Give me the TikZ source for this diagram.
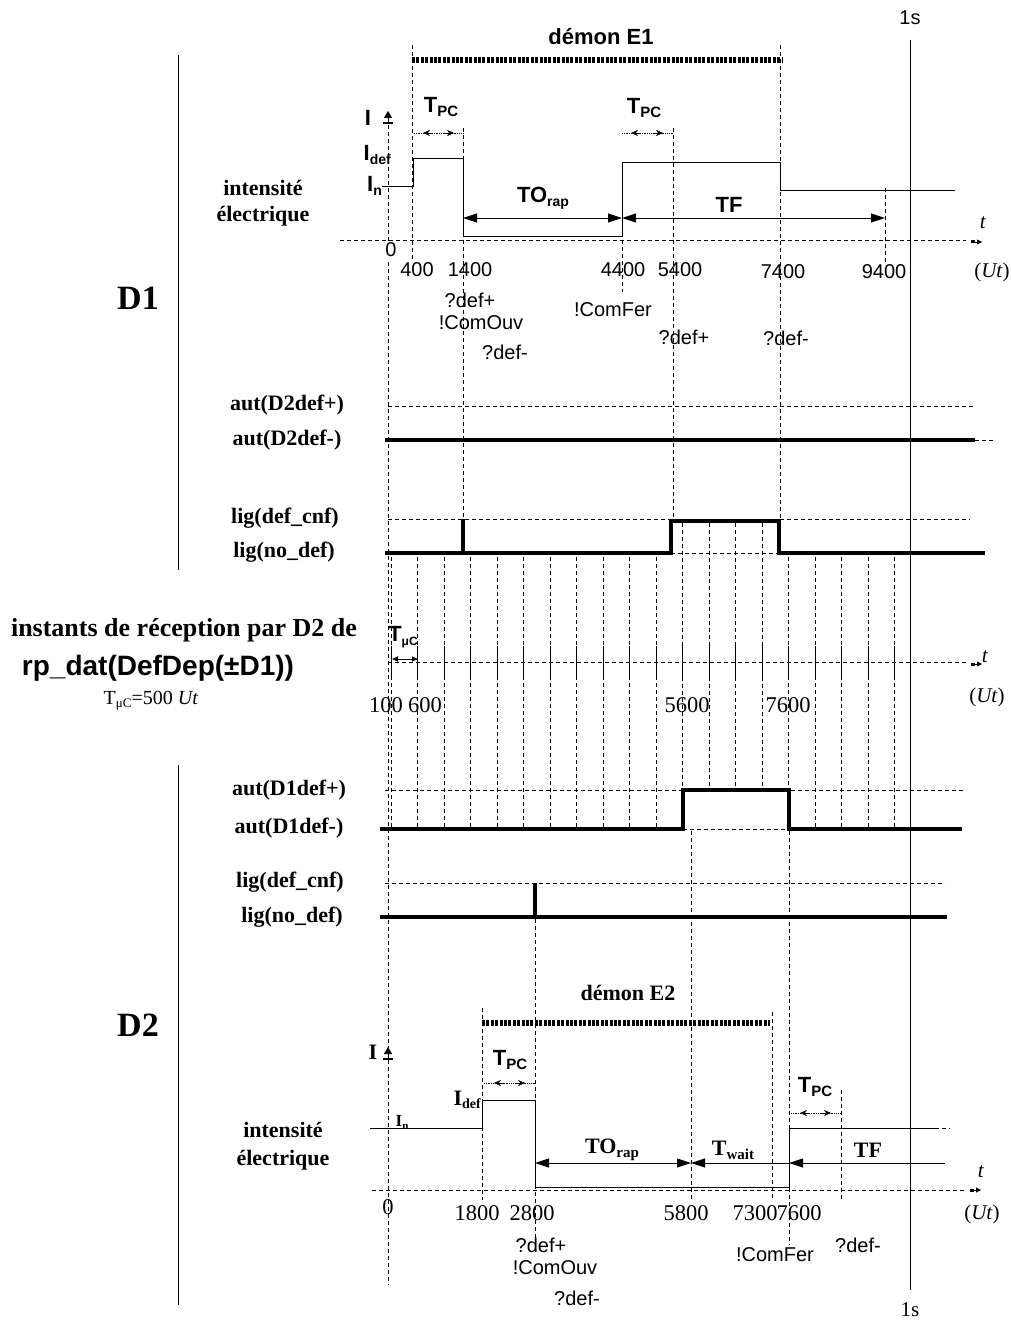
\documentclass[tikz,border=0pt]{standalone}
\usepackage{fontspec}
\setmainfont{Liberation Serif}
\setsansfont{Liberation Sans}
\usetikzlibrary{arrows.meta}
\newcommand{\sbx}[1]{{\fontsize{15}{16}\selectfont\raisebox{-4pt}{#1}}}
\newcommand{\sbs}[1]{{\fontsize{14}{15}\selectfont\raisebox{-4pt}{#1}}}
\tikzset{
  BT/.tip={Triangle[length=14pt,width=9pt]},
  ST/.tip={Stealth[length=7pt,width=6pt]},
  AT/.tip={Triangle[length=5pt,width=5pt]},
  sv/.style={font=\fontsize{20}{23}\selectfont\sffamily, inner sep=0pt},
  svb/.style={font=\fontsize{22}{26}\selectfont\sffamily\bfseries, inner sep=0pt},
  sr/.style={font=\fontsize{22.5}{26}\selectfont, inner sep=0pt},
  srb/.style={font=\fontsize{22}{26}\selectfont\bfseries, inner sep=0pt},
  bigl/.style={font=\fontsize{34}{38}\selectfont\bfseries, inner sep=0pt},
  itl/.style={font=\fontsize{21}{24}\selectfont, inner sep=0pt},
  grid/.style={line width=0.6pt, dash pattern=on 4pt off 3pt},
  sig/.style={line width=0.9pt},
  thk/.style={line width=4pt},
  demon/.style={line width=6.5pt, dash pattern=on 3pt off 1.4pt},
  tpc/.style={densely dotted, line width=0.8pt},
}
\begin{document}
\begin{tikzpicture}[x=1pt,y=-1pt]
\fill[white] (0,0) rectangle (1010,1321);
\useasboundingbox (0,0) rectangle (1010,1321);

% ---------- left brackets and labels ----------
\draw[line width=0.8pt] (178,55) -- (178,570);
\draw[line width=0.8pt] (178,765) -- (178,1305);
\node[bigl] (d1) at (138,298) {D1};
\node[bigl] (d2) at (138,1025) {D2};
\node[srb] (int1a) at (263,188) {intensité};
\node[srb] (int1b) at (263,216) {électrique};
\node[srb] (a2p) at (287,405) {aut(D2def+)};
\node[srb] (a2m) at (287,440) {aut(D2def-)};
\node[srb] (l1c) at (285,518) {lig(def\_cnf)};
\node[srb] (l1n) at (284,552) {lig(no\_def)};
\node[font=\fontsize{26}{30}\selectfont\bfseries, inner sep=0pt] (inst) at (184,630) {instants de réception par D2 de};
\node[font=\fontsize{28}{32}\selectfont\sffamily\bfseries, inner sep=0pt] (rpd) at (158,668) {rp\_dat(DefDep(±D1))};
\node[font=\fontsize{20}{24}\selectfont, inner sep=0pt] (tmuc) at (151,701) {T{\fontsize{13}{14}\selectfont\raisebox{-3pt}{μC}}=500 \textit{Ut}};
\node[srb] (a1p) at (289,790) {aut(D1def+)};
\node[srb] (a1m) at (289,828) {aut(D1def-)};
\node[srb] (l2c) at (290,882) {lig(def\_cnf)};
\node[srb] (l2n) at (292,917) {lig(no\_def)};
\node[srb] (int2a) at (283,1130) {intensité};
\node[srb] (int2b) at (283,1160) {électrique};

% ---------- 1s line ----------
\draw[line width=0.9pt] (910,40) -- (910,1290);
\node[font=\fontsize{20}{22}\selectfont\sffamily, inner sep=0pt] (s1t) at (910,18) {1s};
\node[font=\fontsize{21}{22}\selectfont, inner sep=0pt] (s1b) at (910,1310) {1s};

% ---------- D1 intensity ----------
\node[svb] (dem1) at (601,37) {démon E1};
\draw[demon] (412,60) -- (782,60);
\draw[grid] (412,45) -- (412,262);
\draw[grid] (780,45) -- (780,553);
\draw[grid] (463,128) -- (463,519);
\draw[grid] (673,128) -- (673,521);
\draw[grid] (622,240) -- (622,292);
\draw[grid] (885,188) -- (885,265);
\draw[grid] (388,118) -- (388,243);
\draw[grid] (388,262) -- (388,1285);
\draw[grid] (340,240) -- (966,240);
\draw[line width=3pt] (971,242) -- (975,242);
\draw[-{AT}, line width=0.8pt] (975,242) -- (982,242);
\draw[sig] (382,186) -- (413,186) -- (413,158) -- (463,158) -- (463,236) -- (622,236) -- (622,162) -- (780,162) -- (780,190) -- (955,190);
\draw[line width=0.8pt, -{Triangle[length=7pt,width=8pt]}] (388,124) -- (388,111);
\draw[line width=1.6pt] (383,123) -- (393,123);
\node[svb] (I1) at (368,118) {I};
\node[svb, anchor=east] (Idef1) at (391,155) {I\sbs{def}};
\node[svb, anchor=east] (In1) at (382,186) {I\sbs{n}};
\node[svb] (tpc1) at (441,107) {T\sbx{PC}};
\draw[tpc] (414,133) -- (463,133);
\draw[-{ST}] (433,133) -- (423,133);
\draw[-{ST}] (444,133) -- (454,133);
\node[svb] (tpc2) at (644,108) {T\sbx{PC}};
\draw[tpc] (622,133) -- (673,133);
\draw[-{ST}] (641,133) -- (631,133);
\draw[-{ST}] (653,133) -- (663,133);
\draw[sig, {BT}-{BT}] (463,218) -- (622,218);
\draw[sig, {BT}-{BT}] (622,218) -- (885,218);
\node[svb] (torap1) at (543,198) {TO\sbs{rap}};
\node[svb] (tf1) at (729,205) {TF};
\node[itl] (t1) at (983,223) {\textit{t}};
\node[itl] (ut1) at (992,272) {(\textit{Ut})};
\node[sv] (n0) at (391,250) {0};
\node[sv] (n400) at (417,270) {400};
\node[sv] (n1400) at (470,270) {1400};
\node[sv] (n4400) at (623,270) {4400};
\node[sv] (n5400) at (680,270) {5400};
\node[sv] (n7400) at (783,272) {7400};
\node[sv] (n9400) at (884,272) {9400};
\node[sv] (e1) at (470,300) {?def+};
\node[sv] (e2) at (481,323) {!ComOuv};
\node[sv] (e3) at (505,352) {?def-};
\node[sv] (e4) at (613,310) {!ComFer};
\node[sv] (e5) at (684,337) {?def+};
\node[sv] (e6) at (786,338) {?def-};

% ---------- D1 aut / lig ----------
\draw[grid] (388,406) -- (975,406);
\draw[thk] (385,440) -- (975,440);
\draw[grid] (975,440) -- (995,440);
\draw[grid] (388,519) -- (970,519);
\draw[thk] (385,553) -- (671,553) -- (671,521) -- (779,521) -- (779,553) -- (985,553);
\draw[thk] (463,555) -- (463,519);
\draw[grid] (671,553) -- (779,553);

% ---------- reception ticks ----------
\foreach \k in {0,...,10,16,17,18,19} {
  \draw[grid] ({391+26.5*\k},557) -- ({391+26.5*\k},829);
}
\foreach \k in {11,12,13,14} {
  \draw[grid] ({391+26.5*\k},523) -- ({391+26.5*\k},790);
}
\draw[grid] ({391+26.5*15},557) -- ({391+26.5*15},790);
\foreach \k in {0,...,19} {
  \draw[line width=1pt] ({391+26.5*\k},646) -- ({391+26.5*\k},678);
}
\draw[grid] (388,662) -- (966,662);
\draw[line width=3pt] (971,664) -- (975,664);
\draw[-{AT}, line width=0.8pt] (975,664) -- (982,664);
\node[svb] (tmu) at (403,637) {T{\fontsize{12}{13}\selectfont\raisebox{-4pt}{μC}}};
\draw[line width=1pt, {Triangle[length=6pt,width=5pt]}-{Triangle[length=6pt,width=5pt]}] (392,659) -- (418,659);
\node[itl] (t2) at (985,657) {\textit{t}};
\node[itl] (ut2) at (987,697) {(\textit{Ut})};
\node[sr] (m100) at (386,705) {100};
\node[sr] (m600) at (425,705) {600};
\node[sr] (m5600) at (687,705) {5600};
\node[sr] (m7600) at (788,705) {7600};

% ---------- D2 aut / lig ----------
\draw[grid] (385,790) -- (965,790);
\draw[thk] (380,829) -- (683,829) -- (683,790) -- (789,790) -- (789,829) -- (962,829);
\draw[grid] (683,829) -- (789,829);
\draw[grid] (385,883) -- (945,883);
\draw[thk] (380,917) -- (947,917);
\draw[thk] (535,919) -- (535,883);

% ---------- D2 intensity ----------
\node[font=\fontsize{22}{26}\selectfont\bfseries, inner sep=0pt] (dem2) at (628,993) {démon E2};
\draw[demon] (482,1023) -- (770,1023);
\draw[grid] (482,1008) -- (482,1200);
\draw[grid] (535,919) -- (535,1240);
\draw[grid] (691,831) -- (691,1200);
\draw[grid] (772,1012) -- (772,1200);
\draw[grid] (789,831) -- (789,1245);
\draw[grid] (841,1090) -- (841,1200);
\draw[sig] (370,1128) -- (482,1128) -- (482,1100) -- (535,1100) -- (535,1187) -- (789,1187) -- (789,1128) -- (935,1128);
\draw[grid] (935,1128) -- (950,1128);
\draw[grid] (372,1190) -- (966,1190);
\draw[line width=3pt] (970,1190) -- (974,1190);
\draw[-{AT}, line width=0.8pt] (974,1190) -- (981,1190);
\draw[line width=0.8pt, -{Triangle[length=7pt,width=8pt]}] (388,1060) -- (388,1047);
\draw[line width=1.6pt] (383,1059) -- (393,1059);
\node[srb] (I2) at (373,1052) {I};
\node[srb, anchor=east] (Idef2) at (481,1100) {I{\fontsize{14}{15}\selectfont\raisebox{-3pt}{def}}};
\node[font=\fontsize{17}{18}\selectfont\bfseries, inner sep=0pt] (In2) at (402,1122) {I{\fontsize{11}{12}\selectfont\raisebox{-3pt}{n}}};
\node[svb] (tpc3) at (510,1060) {T\sbx{PC}};
\draw[tpc] (484,1083) -- (535,1083);
\draw[-{ST}] (504,1083) -- (494,1083);
\draw[-{ST}] (515,1083) -- (525,1083);
\node[svb] (tpc4) at (815,1087) {T\sbx{PC}};
\draw[tpc] (791,1113) -- (841,1113);
\draw[-{ST}] (810,1113) -- (800,1113);
\draw[-{ST}] (821,1113) -- (831,1113);
\draw[sig, {BT}-{BT}] (535,1163) -- (691,1163);
\draw[sig, {BT}-] (691,1163) -- (789,1163);
\draw[sig, {BT}-] (789,1163) -- (945,1163);
\node[srb] (torap2) at (612,1150) {TO{\fontsize{15}{16}\selectfont\raisebox{-4pt}{rap}}};
\node[srb] (twait) at (733,1150) {T{\fontsize{15}{16}\selectfont\raisebox{-4pt}{wait}}};
\node[srb] (tf2) at (868,1150) {TF};
\node[itl] (t3) at (981,1172) {\textit{t}};
\node[itl] (ut3) at (982,1214) {(\textit{Ut})};
\node[sr] (b0) at (388,1207) {0};
\node[sr] (b1800) at (477,1213) {1800};
\node[sr] (b2800) at (532,1213) {2800};
\node[sr] (b5800) at (686,1213) {5800};
\node[sr] (b7300) at (755,1213) {7300};
\node[sr] (b7600) at (799,1213) {7600};
\node[sv] (f1) at (541,1245) {?def+};
\node[sv] (f2) at (555,1268) {!ComOuv};
\node[sv] (f3) at (577,1298) {?def-};
\node[sv] (f4) at (775,1255) {!ComFer};
\node[sv] (f5) at (858,1245) {?def-};
\end{tikzpicture}
\end{document}
